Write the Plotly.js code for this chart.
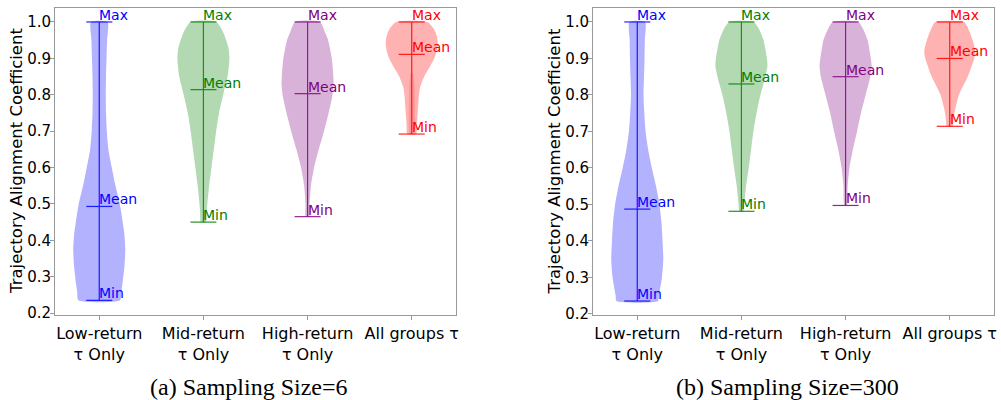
<!DOCTYPE html>
<html>
<head>
<meta charset="utf-8">
<script src="https://cdn.plot.ly/plotly-3.0.1.min.js"></script>
<style>html,body{margin:0;padding:0;background:#fff;}#chart{width:1001px;height:400px;}</style>
</head>
<body>
<div id="chart"></div>
<script>
// ---- data ----
const categories = ["Low-return<br>τ Only", "Mid-return<br>τ Only", "High-return<br>τ Only", "All groups τ"];
const positions = [1, 2, 3, 4];
const groupColors = ["#0000ff", "#008000", "#800080", "#ff0000"];
const fillColors = ["rgba(0,0,255,0.3)", "rgba(0,128,0,0.3)", "rgba(128,0,128,0.3)", "rgba(255,0,0,0.3)"];
const captions = ["(a) Sampling Size=6", "(b) Sampling Size=300"];
const yTitle = "Trajectory Alignment Coefficient";

// panel (a): Sampling Size = 6
const maxA = [1.0, 1.0, 1.0, 1.0];
const meanA = [0.493, 0.814, 0.803, 0.911];
const minA = [0.235, 0.450, 0.465, 0.692];
// density profiles (value levels, relative half-widths)
const lowA_levels = [0.235, 0.26, 0.28, 0.33, 0.375, 0.42, 0.46, 0.50, 0.557, 0.60, 0.65, 0.70, 0.75, 0.80, 0.85, 0.90, 0.95, 1.0];
const lowA_widths = [0.80, 0.85, 0.89, 0.97, 1.0, 0.96, 0.88, 0.79, 0.60, 0.48, 0.35, 0.29, 0.26, 0.25, 0.26, 0.28, 0.30, 0.32];
const midA_levels = [0.450, 0.48, 0.50, 0.55, 0.60, 0.65, 0.70, 0.75, 0.80, 0.85, 0.90, 0.93, 0.97, 1.0];
const midA_widths = [0.10, 0.13, 0.15, 0.22, 0.31, 0.40, 0.49, 0.60, 0.76, 0.93, 1.0, 0.96, 0.77, 0.50];
const highA_levels = [0.465, 0.50, 0.55, 0.60, 0.65, 0.70, 0.75, 0.80, 0.83, 0.85, 0.90, 0.95, 0.97, 1.0];
const highA_widths = [0.07, 0.08, 0.13, 0.25, 0.43, 0.63, 0.81, 0.96, 1.0, 0.99, 0.93, 0.79, 0.68, 0.48];
const allA_levels = [0.692, 0.72, 0.75, 0.80, 0.82, 0.85, 0.87, 0.90, 0.92, 0.94, 0.96, 0.98, 1.0];
const allA_widths = [0.17, 0.20, 0.23, 0.28, 0.32, 0.48, 0.64, 0.87, 0.96, 1.0, 0.97, 0.86, 0.60];
const allA2_levels = [0.692, 0.72, 0.78, 0.83, 0.86];
const allA2_widths = [0.10, 0.12, 0.12, 0.10, 0.05];

// panel (b): Sampling Size = 300
const maxB = [1.0, 1.0, 1.0, 1.0];
const meanB = [0.487, 0.830, 0.850, 0.900];
const minB = [0.235, 0.481, 0.497, 0.714];
const lowB_levels = [0.235, 0.25, 0.30, 0.35, 0.40, 0.45, 0.50, 0.55, 0.60, 0.65, 0.70, 0.75, 0.80, 0.85, 0.90, 0.95, 1.0];
const lowB_widths = [0.80, 0.83, 0.95, 1.0, 0.97, 0.93, 0.85, 0.72, 0.56, 0.42, 0.32, 0.27, 0.24, 0.26, 0.28, 0.29, 0.30];
const midB_levels = [0.481, 0.50, 0.55, 0.60, 0.65, 0.70, 0.75, 0.80, 0.85, 0.88, 0.90, 0.95, 0.98, 1.0];
const midB_widths = [0.08, 0.11, 0.18, 0.28, 0.37, 0.46, 0.58, 0.73, 0.92, 1.0, 0.98, 0.85, 0.68, 0.47];
const highB_levels = [0.497, 0.55, 0.60, 0.65, 0.70, 0.75, 0.80, 0.85, 0.88, 0.90, 0.95, 0.98, 1.0];
const highB_widths = [0.05, 0.08, 0.15, 0.28, 0.44, 0.59, 0.77, 0.95, 1.0, 0.97, 0.85, 0.68, 0.49];
const allB_levels = [0.714, 0.73, 0.75, 0.77, 0.80, 0.85, 0.90, 0.92, 0.95, 0.98, 1.0];
const allB_widths = [0.12, 0.14, 0.18, 0.24, 0.35, 0.69, 0.94, 0.98, 0.88, 0.72, 0.55];

// ---- drawing ----
const HALF = 0.25;   // max half-width of a violin (x units)
const BAR = 0.125;   // half-length of min/mean/max bars

function violinTrace(pos, levels, widths, fill, xa, ya, smooth) {
  const xs = [], ys = [];
  for (let i = 0; i < levels.length; i++) { xs.push(pos + widths[i] * HALF); ys.push(levels[i]); }
  for (let i = levels.length - 1; i >= 0; i--) { xs.push(pos - widths[i] * HALF); ys.push(levels[i]); }
  xs.push(xs[0]); ys.push(ys[0]);
  return {type: "scatter", mode: "lines", x: xs, y: ys, xaxis: xa, yaxis: ya,
    fill: "toself", fillcolor: fill,
    line: smooth ? {width: 0, shape: "spline", smoothing: 0.6} : {width: 0},
    hoverinfo: "skip", showlegend: false};
}

function statTrace(pos, mn, me, mx, color, xa, ya) {
  return {type: "scatter", mode: "lines", xaxis: xa, yaxis: ya,
    x: [pos, pos, null, pos - BAR, pos + BAR, null, pos - BAR, pos + BAR, null, pos - BAR, pos + BAR],
    y: [mn, mx, null, mn, mn, null, me, me, null, mx, mx],
    line: {color: color, width: 1.2}, opacity: 0.85, hoverinfo: "skip", showlegend: false};
}

const traces = [];
const annotations = [];
const panels = [
  {xa: "x", ya: "y", mins: minA, means: meanA, maxs: maxA, titleX: 16.5,
   profiles: [[lowA_levels, lowA_widths], [midA_levels, midA_widths], [highA_levels, highA_widths], [allA_levels, allA_widths]],
   extra: [[3, allA2_levels, allA2_widths]]},
  {xa: "x2", ya: "y2", mins: minB, means: meanB, maxs: maxB, titleX: 554,
   profiles: [[lowB_levels, lowB_widths], [midB_levels, midB_widths], [highB_levels, highB_widths], [allB_levels, allB_widths]],
   extra: []}
];

panels.forEach(p => {
  p.profiles.forEach((pr, i) => traces.push(violinTrace(positions[i], pr[0], pr[1], fillColors[i], p.xa, p.ya, true)));
  p.extra.forEach(e => traces.push(violinTrace(positions[e[0]], e[1], e[2], "rgba(255,0,0,0.14)", p.xa, p.ya, false)));
  positions.forEach((pos, i) => {
    traces.push(statTrace(pos, p.mins[i], p.means[i], p.maxs[i], groupColors[i], p.xa, p.ya));
    [["Max", p.maxs[i]], ["Mean", p.means[i]], ["Min", p.mins[i]]].forEach(([lbl, v]) => {
      annotations.push({xref: p.xa, yref: p.ya, x: pos, y: v, text: lbl, showarrow: false,
        xanchor: "left", yanchor: "bottom", xshift: -1, yshift: -2, borderpad: 0,
        font: {family: "DejaVu Sans", size: 14, color: groupColors[i]}});
    });
  });
  // y-axis title, centred on the axis
  annotations.push({xref: "paper", yref: "paper", x: p.titleX / 1001, y: 1 - 161.5 / 400, text: yTitle,
    textangle: -90, showarrow: false, xanchor: "center", yanchor: "middle",
    font: {family: "DejaVu Sans", size: 16.5, color: "#000"}});
});

annotations.push({xref: "paper", yref: "paper", x: 249 / 1001, y: 0.033, text: captions[0], showarrow: false,
  xanchor: "center", yanchor: "middle", font: {family: "Liberation Serif", size: 24, color: "#000"}});
annotations.push({xref: "paper", yref: "paper", x: 787 / 1001, y: 0.033, text: captions[1], showarrow: false,
  xanchor: "center", yanchor: "middle", font: {family: "Liberation Serif", size: 24, color: "#000"}});

function xAxis(domain, anchor) {
  return {domain: domain, anchor: anchor, range: [0.575, 4.425], tickvals: positions, ticktext: categories,
    showgrid: false, zeroline: false, showline: true, mirror: true, linecolor: "#999", linewidth: 1,
    ticks: "outside", ticklen: 4, tickcolor: "#999",
    tickfont: {family: "DejaVu Sans", size: 16, color: "#000"}, fixedrange: true};
}
function yAxis(domain, anchor, range) {
  return {domain: domain, anchor: anchor, range: range, dtick: 0.1, tick0: 0.2, tickformat: ".1f",
    showgrid: false, zeroline: false, showline: true, mirror: true, linecolor: "#999", linewidth: 1,
    ticks: "outside", ticklen: 4, tickcolor: "#999", ticklabelstandoff: -4,
    tickfont: {family: "DejaVu Sans", size: 15, color: "#000"}, fixedrange: true};
}

const yDom = [85 / 400, 392 / 400];
const layout = {
  width: 1001, height: 400, margin: {l: 0, r: 0, t: 0, b: 0},
  paper_bgcolor: "#fff", plot_bgcolor: "#fff", showlegend: false, hovermode: false,
  xaxis: xAxis([55 / 1001, 456 / 1001], "y"),
  yaxis: yAxis(yDom, "x", [0.1947, 1.0384]),
  xaxis2: xAxis([593 / 1001, 994 / 1001], "y2"),
  yaxis2: yAxis(yDom, "x2", [0.1967, 1.0383]),
  annotations: annotations
};

Plotly.newPlot("chart", traces, layout, {displayModeBar: false, staticPlot: true});
</script>
</body>
</html>
